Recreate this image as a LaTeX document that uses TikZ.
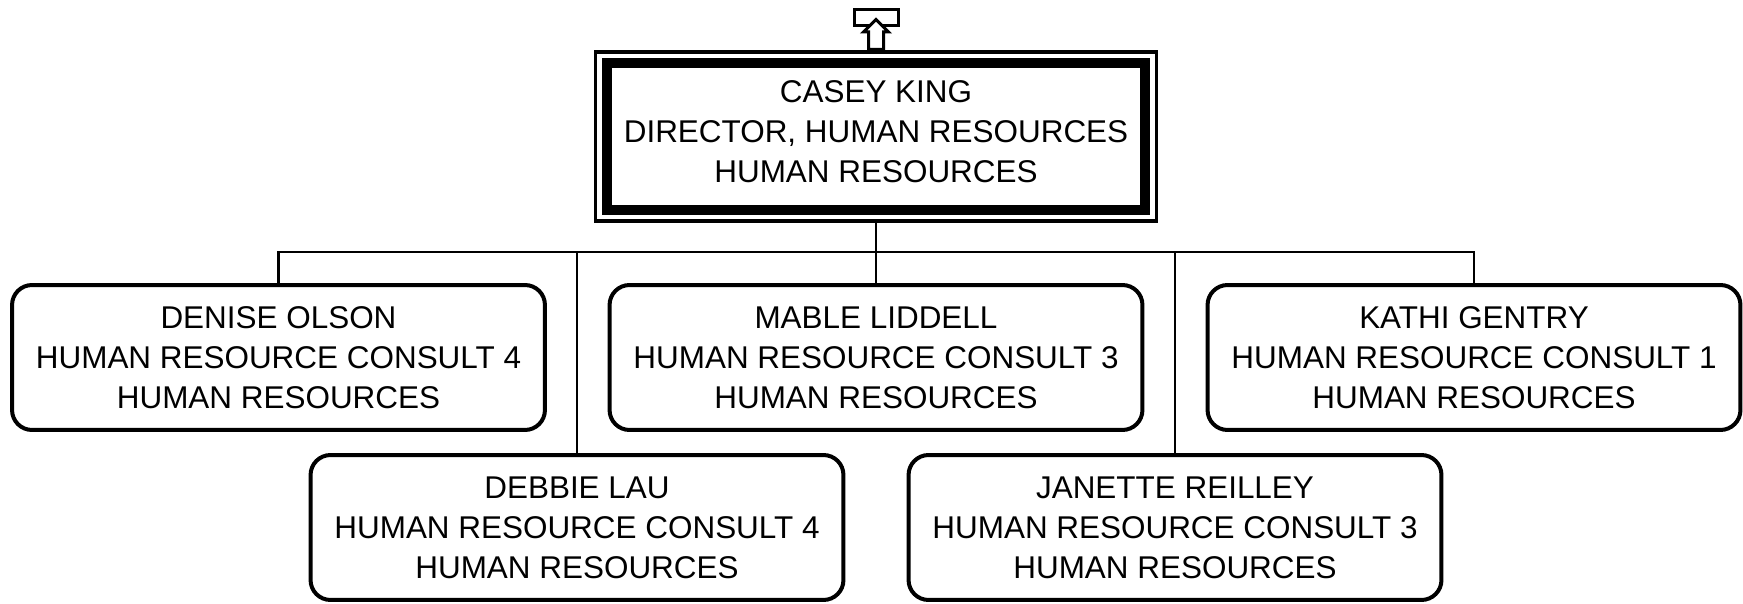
\documentclass[tikz,border=0pt]{standalone}
\usepackage{fontspec}
\setmainfont{Liberation Sans}
\usetikzlibrary{positioning}

\begin{document}
\begin{tikzpicture}[
  x = 0.02cm, y = -0.02cm,
  person/.style     = {rectangle, draw=black, line width=0.08cm,
                       rounded corners=0.4cm, fill=white,
                       minimum width=10.66cm, minimum height=2.9cm,
                       inner sep=0pt, align=center,
                       font=\fontsize{17.9}{22.76}\selectfont},
  headbox/.style    = {rectangle, draw=black, line width=0.21cm, fill=white,
                       minimum width=10.76cm, minimum height=2.95cm,
                       inner sep=0pt, align=center, text depth=0.2cm,
                       font=\fontsize{17.9}{22.76}\selectfont},
  outerframe/.style = {rectangle, draw=black, line width=0.07cm,
                       minimum width=11.22cm, minimum height=3.39cm,
                       inner sep=0pt},
  link/.style       = {draw=black, line width=0.05cm},
  icon/.style       = {draw=black, line width=0.06cm, fill=white}
]
\useasboundingbox (0,0) rectangle (1743,604);

%%% ---- HEAD (top) ----
\node[outerframe] (caseyframe) at (876,136.5) {};
\node[headbox]    (casey)      at (876,136.5)
  {CASEY KING\\DIRECTOR, HUMAN RESOURCES\\HUMAN RESOURCES};

%%% ---- UP ICON ----
\draw[icon] (854.5,9.5) rectangle (898.5,25.5);
\draw[icon] (876,19.5) -- (888.5,32) -- (883.5,32) -- (883.5,49.5)
  -- (868.5,49.5) -- (868.5,32) -- (863.5,32) -- cycle;

%%% ---- FIRST ROW ----
\node[person] (denise) at (278.5,357.5)
  {DENISE OLSON\\HUMAN RESOURCE CONSULT 4\\HUMAN RESOURCES};
\node[person] (mable)  at (876,357.5)
  {MABLE LIDDELL\\HUMAN RESOURCE CONSULT 3\\HUMAN RESOURCES};
\node[person] (kathi)  at (1474,357.5)
  {KATHI GENTRY\\HUMAN RESOURCE CONSULT 1\\HUMAN RESOURCES};

%%% ---- SECOND ROW ----
\node[person] (debbie)  at (577,527.5)
  {DEBBIE LAU\\HUMAN RESOURCE CONSULT 4\\HUMAN RESOURCES};
\node[person] (janette) at (1175,527.5)
  {JANETTE REILLEY\\HUMAN RESOURCE CONSULT 3\\HUMAN RESOURCES};

%%% ---- CONNECT ----
\coordinate (bus) at (876,252);
\draw[link] (caseyframe.south) -- (bus);
\draw[link] (denise.north) |- (bus) -| (kathi.north);
\draw[link] (bus) -- (mable.north);
\draw[link] (debbie.north)  -- (debbie.north |- bus);
\draw[link] (janette.north) -- (janette.north |- bus);
\end{tikzpicture}
\end{document}
